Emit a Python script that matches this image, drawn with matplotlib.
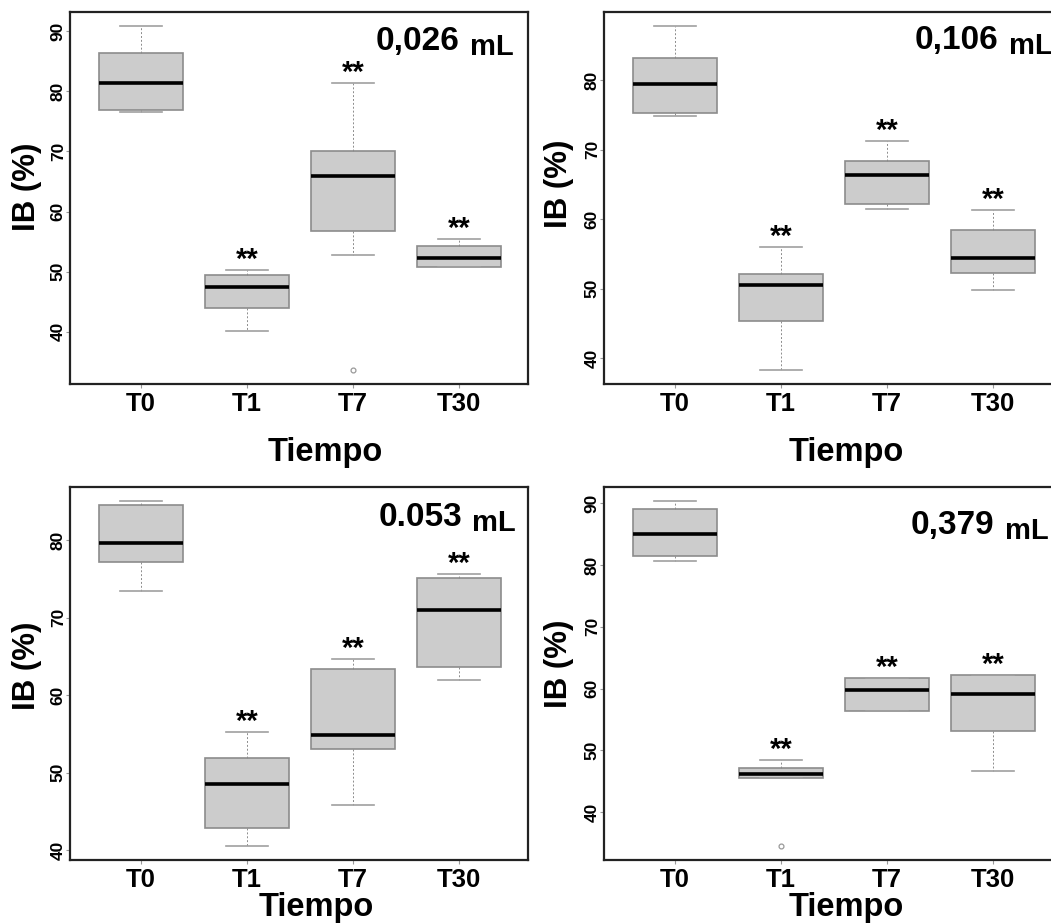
import numpy as np
import matplotlib
matplotlib.use("Agg")
import matplotlib.pyplot as plt
from matplotlib.ticker import MultipleLocator

plt.rcParams["font.family"] = ["Liberation Sans", "DejaVu Sans"]
plt.rcParams["font.weight"] = "bold"

# =========================
# DATA
# =========================
TIMES = ["T0", "T1", "T7", "T30"]
SIGNIF = ["", "**", "**", "**"]

VOLUMES = ["0,026", "0,106", "0.053", "0,379"]

# panel A: 0,026 mL
A_WHISLO = [76.5, 40.1, 52.7, 50.7]
A_Q1 = [76.9, 43.9, 56.7, 50.8]
A_MED = [81.3, 47.4, 65.9, 52.3]
A_Q3 = [86.3, 49.4, 70.0, 54.2]
A_WHISHI = [90.9, 50.2, 81.4, 55.4]
A_FLIERS = [[], [], [33.6], []]

# panel B: 0,106 mL
B_WHISLO = [74.8, 38.3, 61.5, 49.9]
B_Q1 = [75.3, 45.4, 62.2, 52.3]
B_MED = [79.4, 50.5, 66.4, 54.4]
B_Q3 = [83.1, 52.1, 68.3, 58.4]
B_WHISHI = [87.8, 56.0, 71.2, 61.3]
B_FLIERS = [[], [], [], []]

# panel C: 0.053 mL
C_WHISLO = [73.4, 40.5, 45.8, 61.9]
C_Q1 = [77.2, 42.9, 53.0, 63.6]
C_MED = [79.6, 48.5, 54.9, 71.0]
C_Q3 = [84.6, 51.9, 63.4, 75.1]
C_WHISHI = [85.1, 55.2, 64.7, 75.6]
C_FLIERS = [[], [], [], []]

# panel D: 0,379 mL
D_WHISLO = [80.7, 45.6, 56.3, 46.6]
D_Q1 = [81.4, 45.6, 56.3, 53.2]
D_MED = [85.0, 46.2, 59.8, 59.2]
D_Q3 = [89.0, 47.1, 61.7, 62.2]
D_WHISHI = [90.4, 48.5, 61.7, 62.2]
D_FLIERS = [[], [34.5], [], []]

PANELS = [
    (A_WHISLO, A_Q1, A_MED, A_Q3, A_WHISHI, A_FLIERS),
    (B_WHISLO, B_Q1, B_MED, B_Q3, B_WHISHI, B_FLIERS),
    (C_WHISLO, C_Q1, C_MED, C_Q3, C_WHISHI, C_FLIERS),
    (D_WHISLO, D_Q1, D_MED, D_Q3, D_WHISHI, D_FLIERS),
]

# =========================
# LAYOUT (pixels in the 1051x923 canvas)
# =========================
W, H = 1051, 923
AX_W = 458
AX_BOXES = [  # left, top, bottom
    (70, 12, 384),
    (604, 12, 384),
    (70, 487, 860),
    (604, 487, 860),
]
VOL_POS = [(0.968, 0.884), (0.980, 0.886), (0.974, 0.881), (0.971, 0.861)]
XLAB_POS = [(0.557, -0.207), (0.530, -0.207), (0.537, -0.150), (0.530, -0.150)]
YLAB_POS = [(-0.094, 0.53), (-0.099, 0.537), (-0.094, 0.52), (-0.099, 0.525)]

BOX_FACE = "#cccccc"
BOX_EDGE = "#8c8c8c"


def make_stats(whislo, q1, med, q3, whishi, fliers):
    stats = []
    for i in range(len(TIMES)):
        stats.append({
            "label": TIMES[i],
            "whislo": whislo[i],
            "q1": q1[i],
            "med": med[i],
            "q3": q3[i],
            "whishi": whishi[i],
            "fliers": np.array(fliers[i], dtype=float),
        })
    return stats


def draw_panel(fig, k):
    left, top, bottom = AX_BOXES[k]
    ax = fig.add_axes([left / W, (H - bottom) / H, AX_W / W, (bottom - top) / H])

    whislo, q1, med, q3, whishi, fliers = PANELS[k]
    stats = make_stats(whislo, q1, med, q3, whishi, fliers)
    pos = np.arange(1, len(TIMES) + 1)

    ax.bxp(
        stats,
        positions=pos,
        widths=0.8,
        patch_artist=True,
        boxprops=dict(facecolor=BOX_FACE, edgecolor=BOX_EDGE, linewidth=1.2),
        whiskerprops=dict(color=BOX_EDGE, linestyle=(0, (2, 2)), linewidth=0.7),
        capprops=dict(color="#a0a0a0", linewidth=1.2),
        capwidths=0.4,
        medianprops=dict(color="black", linewidth=2.6),
        flierprops=dict(marker="o", markerfacecolor="none",
                        markeredgecolor="#999999", markersize=3.5,
                        markeredgewidth=0.9),
    )

    # y range like R: data range padded by 4%
    lo = min(min(whislo), min([min(f) if f else np.inf for f in fliers]))
    hi = max(max(whishi), max([max(f) if f else -np.inf for f in fliers]))
    pad = 0.04 * (hi - lo)
    ax.set_ylim(lo - pad, hi + pad)
    ax.set_xlim(0.33, 4.65)
    ax.yaxis.set_major_locator(MultipleLocator(10))

    ax.set_xticks(pos)
    ax.set_xticklabels(TIMES, fontsize=18.5, fontweight="bold")
    for lab in ax.get_yticklabels():
        lab.set_fontweight("bold")
    ax.tick_params(axis="y", labelrotation=90, labelsize=12.5, length=3,
                   width=0.8, color="#999999", pad=0)
    ax.tick_params(axis="x", length=3, width=0.8, color="#999999", pad=3)
    for lab in ax.get_yticklabels():
        lab.set_verticalalignment("center")

    for sp in ax.spines.values():
        sp.set_linewidth(1.6)
        sp.set_color("#222222")

    # significance stars
    for i, s in enumerate(SIGNIF):
        if s:
            ax.annotate(s, xy=(pos[i], whishi[i]), xytext=(0, 1.5),
                        textcoords="offset points", ha="center",
                        va="baseline", fontsize=21, fontweight="bold")

    # volume label: big number + smaller unit
    vx, vy = VOL_POS[k]
    unit = ax.text(vx, vy, "mL", transform=ax.transAxes, ha="right",
                   va="baseline", fontsize=21, fontweight="bold")
    ax.annotate(VOLUMES[k], xy=(0, 0), xycoords=unit, xytext=(-7.5, 8.0),
                textcoords="offset points", ha="right", va="baseline",
                fontsize=24, fontweight="bold")

    xl, yl = XLAB_POS[k]
    ax.text(xl, yl, "Tiempo", transform=ax.transAxes, ha="center",
            va="baseline", fontsize=23.5, fontweight="bold")
    yx, yy = YLAB_POS[k]
    ax.text(yx, yy, "IB (%)", transform=ax.transAxes, ha="center",
            va="center", rotation=90, fontsize=22.5, fontweight="bold")
    return ax


def main():
    fig = plt.figure(figsize=(W / 100, H / 100), dpi=100)
    for k in range(4):
        draw_panel(fig, k)
    fig.savefig("out.png", dpi=100)
    plt.close(fig)


if __name__ == "__main__":
    main()
